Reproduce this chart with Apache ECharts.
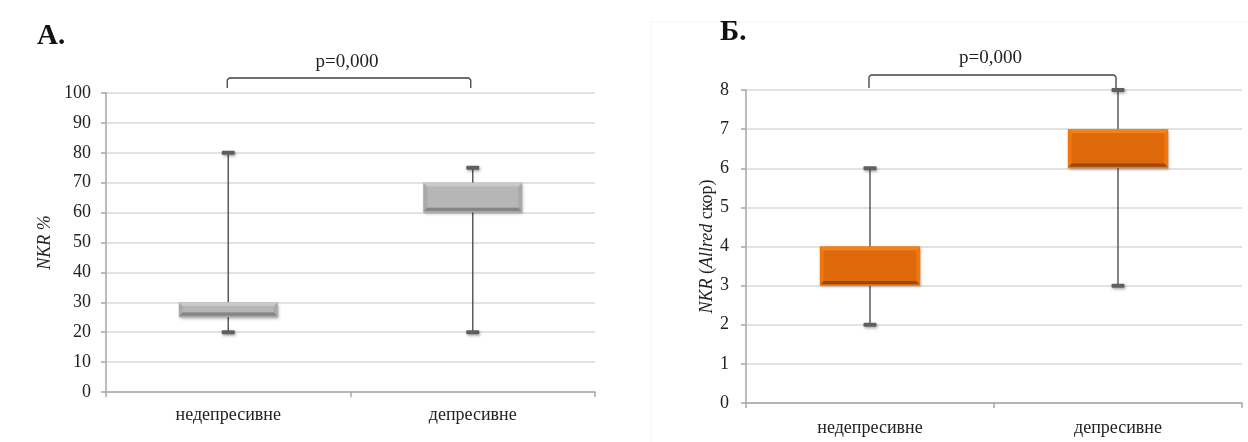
<!DOCTYPE html>
<html>
<head>
<meta charset="utf-8">
<script src="https://cdn.jsdelivr.net/npm/echarts@6/dist/echarts.min.js"></script>
<style>
html,body{margin:0;padding:0;background:#fff;}
#c{width:1248px;height:442px;}
</style>
</head>
<body>
<div id="c"></div>
<script>
// ---- data ----
const categories = ['недепресивне', 'депресивне'];
// Chart А: NKR %
const nkrMin = [20, 20];
const nkrQ1  = [25, 60];
const nkrQ3  = [30, 70];
const nkrMax = [80, 75];
// Chart Б: NKR (Allred score)
const allredMin = [2, 3];
const allredQ1  = [3, 6];
const allredQ3  = [4, 7];
const allredMax = [6, 8];
const yTicksA = [0, 10, 20, 30, 40, 50, 60, 70, 80, 90, 100];
const yTicksB = [0, 1, 2, 3, 4, 5, 6, 7, 8];
const pLabel = 'p=0,000';

const FONT = '"Liberation Serif","DejaVu Serif",serif';

function rows(mn, q1, q3, mx) {
  return categories.map((c, i) => [i, mn[i], q1[i], q3[i], mx[i]]);
}

function makeRender(pal) {
  return function (params, api) {
    const cx = api.coord([api.value(0), 0])[0];
    const yMin = api.coord([api.value(0), api.value(1)])[1];
    const yQ1 = api.coord([api.value(0), api.value(2)])[1];
    const yQ3 = api.coord([api.value(0), api.value(3)])[1];
    const yMax = api.coord([api.value(0), api.value(4)])[1];
    const bw = api.size([1, 0])[0] * 0.405;
    const l = cx - bw / 2, r = cx + bw / 2, t = yQ3, b = yQ1;
    const capW = 13, capH = 4;
    const sh = {shadowBlur: 3, shadowOffsetY: 1.5, shadowOffsetX: 1, shadowColor: 'rgba(0,0,0,0.35)'};
    return {
      type: 'group',
      children: [
        {type: 'line', shape: {x1: cx, y1: yMax, x2: cx, y2: yMin},
         style: {stroke: '#5a5a5a', lineWidth: 1.5}},
        {type: 'rect', shape: {x: cx - capW / 2, y: yMax - capH / 2, width: capW, height: capH, r: 1},
         style: Object.assign({fill: '#5f5f5f'}, sh)},
        {type: 'rect', shape: {x: cx - capW / 2, y: yMin - capH / 2, width: capW, height: capH, r: 1},
         style: Object.assign({fill: '#5f5f5f'}, sh)},
        {type: 'rect', shape: {x: l, y: t, width: bw, height: b - t},
         style: Object.assign({fill: pal.edge}, sh)},
        {type: 'polygon', shape: {points: [[l, t], [r, t], [r - 4, t + 4], [l + 4, t + 4]]},
         style: {fill: pal.light}},
        {type: 'polygon', shape: {points: [[l + 4, b - 5], [r - 4, b - 5], [r - 1, b - 1.5], [l + 1, b - 1.5]]},
         style: {fill: pal.dark}},
        {type: 'rect', shape: {x: l + 4, y: t + 4, width: bw - 8, height: Math.max(0, b - t - 9)},
         style: {fill: pal.face}}
      ]
    };
  };
}

const grayPal = {edge: '#a9a9a9', light: '#c9c9c9', face: '#b6b6b6', dark: '#858585'};
const orangePal = {edge: '#f0760f', light: '#f4821c', face: '#de690a', dark: '#9c4708'};

function yAxisCfg(gridIndex, ticks, name, rich, nameGap, margin) {
  return {
    type: 'value', gridIndex: gridIndex,
    min: ticks[0], max: ticks[ticks.length - 1], interval: ticks[1] - ticks[0],
    name: name, nameLocation: 'middle', nameGap: nameGap, nameRotate: 90,
    nameTextStyle: {fontFamily: FONT, fontSize: 18, color: '#222', rich: rich},
    axisLine: {show: true, lineStyle: {color: '#a6a6a6', width: 1.5}},
    axisTick: {show: true, length: 5, lineStyle: {color: '#a6a6a6', width: 1.5}},
    axisLabel: {fontFamily: FONT, fontSize: 18, color: '#222', margin: margin},
    splitLine: {show: true, lineStyle: {color: '#d9d9d9', width: 1.5}}
  };
}
function xAxisCfg(gridIndex, margin) {
  return {
    type: 'category', gridIndex: gridIndex, data: categories, boundaryGap: true,
    axisLine: {show: true, onZero: false, lineStyle: {color: '#a6a6a6', width: 1.5}},
    axisTick: {show: true, length: 5, alignWithLabel: false, lineStyle: {color: '#a6a6a6', width: 1.5}},
    axisLabel: {fontFamily: FONT, fontSize: 18, color: '#222', margin: margin},
    splitLine: {show: false}
  };
}

const richI = {i: {fontFamily: FONT, fontSize: 18, fontStyle: 'italic', color: '#222'},
               n: {fontFamily: FONT, fontSize: 18, color: '#222'}};

const chart = echarts.init(document.getElementById('c'), null, {renderer: 'canvas'});
chart.setOption({
  animation: false,
  backgroundColor: '#fff',
  grid: [
    {left: 106, right: 1248 - 595, top: 93, bottom: 442 - 392},
    {left: 746, right: 1248 - 1242, top: 90, bottom: 442 - 403}
  ],
  xAxis: [xAxisCfg(0, 14), xAxisCfg(1, 16)],
  yAxis: [
    yAxisCfg(0, yTicksA, '{i|NKR %}', richI, 52, 15),
    yAxisCfg(1, yTicksB, '{i|NKR} {n|(}{i|Allred}{n| скор)}', richI, 30, 17)
  ],
  series: [
    {type: 'custom', xAxisIndex: 0, yAxisIndex: 0, renderItem: makeRender(grayPal),
     encode: {x: 0, y: [1, 2, 3, 4]}, data: rows(nkrMin, nkrQ1, nkrQ3, nkrMax), z: 5},
    {type: 'custom', xAxisIndex: 1, yAxisIndex: 1, renderItem: makeRender(orangePal),
     encode: {x: 0, y: [1, 2, 3, 4]}, data: rows(allredMin, allredQ1, allredQ3, allredMax), z: 5}
  ]
});

// annotations: panel titles, significance brackets
function bracket(ax, topOff, botOff, textOff) {
  const p0 = chart.convertToPixel({xAxisIndex: ax, yAxisIndex: ax}, [0, ax === 0 ? yTicksA[yTicksA.length - 1] : yTicksB[yTicksB.length - 1]]);
  const p1 = chart.convertToPixel({xAxisIndex: ax, yAxisIndex: ax}, [1, 0]);
  const x0 = p0[0] - 1, x1 = p1[0] - 2, gt = p0[1];
  const yt = gt - topOff, yb = gt - botOff;
  return [
    {type: 'polyline', shape: {points: [[x0, yb], [x0, yt + 2], [x0 + 2, yt], [x1 - 2, yt], [x1, yt + 2], [x1, yb]]},
     style: {stroke: '#404040', lineWidth: 1.3, fill: null}, z: 10},
    {type: 'text', x: (x0 + x1) / 2 - 2, y: gt - textOff,
     style: {text: pLabel, font: '19px ' + FONT, fill: '#222', textAlign: 'center', textVerticalAlign: 'middle'}, z: 10}
  ];
}

chart.setOption({
  graphic: [
    {type: 'line', shape: {x1: 651, y1: 22, x2: 1248, y2: 22}, style: {stroke: '#f2f2f2', lineWidth: 1}},
    {type: 'line', shape: {x1: 651, y1: 22, x2: 651, y2: 442}, style: {stroke: '#f4f4f4', lineWidth: 1}},
    {type: 'text', x: 37, y: 22, style: {text: 'А.', font: 'bold 29px ' + FONT, fill: '#111'}},
    {type: 'text', x: 720, y: 18, style: {text: 'Б.', font: 'bold 29px ' + FONT, fill: '#111'}}
  ].concat(bracket(0, 15, 5, 31)).concat(bracket(1, 15, 2, 32))
});
</script>
</body>
</html>
